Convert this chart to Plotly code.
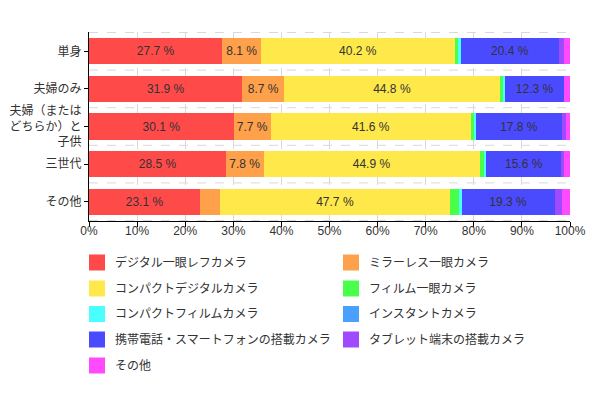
import plotly.graph_objects as go

categories = ["単身", "夫婦のみ", "夫婦（または<br>どちらか）と<br>子供", "三世代", "その他"]
series_names = ["デジタル一眼レフカメラ", "ミラーレス一眼カメラ", "コンパクトデジタルカメラ", "フィルム一眼カメラ",
                "コンパクトフィルムカメラ", "インスタントカメラ", "携帯電話・スマートフォンの搭載カメラ",
                "タブレット端末の搭載カメラ", "その他"]
colors = ["#FF4A4A", "#FFA04A", "#FFE84A", "#4AFF4A", "#4AFFFF", "#4AA0FF", "#4A4AFF", "#A04AFF", "#FF4AFF"]

dslr = [27.7, 31.9, 30.1, 28.5, 23.1]
mirrorless = [8.1, 8.7, 7.7, 7.8, 4.2]
compact_digital = [40.2, 44.8, 41.6, 44.9, 47.7]
film_slr = [0.9, 0.6, 0.8, 1.1, 1.9]
compact_film = [0.4, 0.5, 0.3, 0.3, 0.6]
instant = [0.0, 0.0, 0.0, 0.0, 0.0]
phone = [20.4, 12.3, 17.8, 15.6, 19.3]
tablet = [1.0, 0.0, 0.9, 0.6, 1.5]
other = [1.3, 1.2, 0.8, 1.2, 1.7]
series_values = [dslr, mirrorless, compact_digital, film_slr, compact_film, instant, phone, tablet, other]
x_ticks = [0, 10, 20, 30, 40, 50, 60, 70, 80, 90, 100]

OFF = 8  # page body margin
W, H = 598 - OFF, 398 - OFF
L, R, T, B = 89 - OFF, 28, 32 - OFF, 185 - OFF
FONT = "Liberation Sans, Arial, Noto Sans CJK JP, sans-serif"
GRID = "#d9d9d9"

fig = go.Figure()
for name, vals, col in zip(series_names, series_values, colors):
    texts = [f"{v:.1f} %" if v >= 5 else "" for v in vals]
    fig.add_trace(go.Bar(
        y=categories, x=vals, name=name, orientation="h",
        marker=dict(color=col, line=dict(width=0)),
        text=texts, textposition="inside", insidetextanchor="middle",
        textfont=dict(color="#333333", size=12, family=FONT),
        textangle=0, showlegend=False, constraintext="none",
    ))

# horizontal dashed gridlines at category boundaries
for k in range(len(categories) + 1):
    fig.add_shape(type="line", xref="paper", yref="y", x0=0, x1=1, y0=k - 0.5, y1=k - 0.5,
                  line=dict(color=GRID, width=1, dash="dash"), layer="below")

# manual legend (positions in screen pixels converted to paper coords)
pw = W - L - R
ph = H - T - B
def px2x(px): return (px - OFF - L) / pw
def px2y(py): return (H - B - (py - OFF)) / ph

col_x = [89, 343]
row_y = [262.5, 288.5, 314, 339.5, 365.5]
for i, (name, col) in enumerate(zip(series_names, colors)):
    cx = col_x[i % 2]
    cy = row_y[i // 2]
    fig.add_shape(type="rect", xref="paper", yref="paper",
                  x0=px2x(cx), x1=px2x(cx + 16), y0=px2y(cy - 8), y1=px2y(cy + 8),
                  fillcolor=col, line=dict(width=0))
    fig.add_annotation(xref="paper", yref="paper", x=px2x(cx + 24), y=px2y(cy),
                       text=name, showarrow=False, xanchor="left", yanchor="middle",
                       font=dict(size=12, color="#333333", family=FONT))

fig.update_layout(
    width=W, height=H, barmode="stack", bargap=0.3,
    margin=dict(l=L, r=R, t=T, b=B, autoexpand=False),
    paper_bgcolor="white", plot_bgcolor="white",
    font=dict(family=FONT, size=12, color="#333333"),
    xaxis=dict(range=[0, 100], tickvals=x_ticks, ticktext=[f"{v}%" for v in x_ticks],
               showgrid=True, gridcolor=GRID, griddash="dash", gridwidth=1,
               showline=True, linecolor="#000000", linewidth=1, automargin=False,
               ticks="outside", tickcolor="#000000", ticklen=5, zeroline=False,
               ticklabelstandoff=-6,
               tickfont=dict(size=12, color="#333333")),
    yaxis=dict(autorange="reversed", type="category",
               showgrid=False,
               showline=True, linecolor="#000000", linewidth=1, automargin=False,
               ticks="outside", tickcolor="#000000", ticklen=4,
               tickfont=dict(size=12, color="#333333")),
)
fig.write_html("out.html")
